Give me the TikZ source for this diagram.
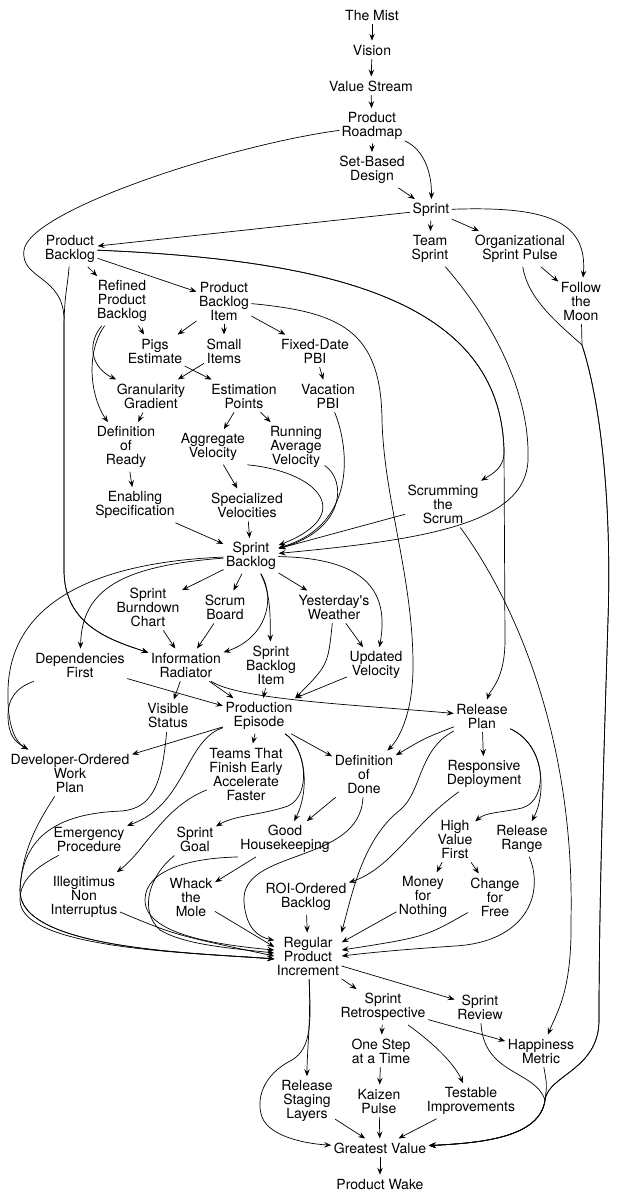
\documentclass[tikz,border=0pt]{standalone}
\usepackage{fontspec}
\newfontfamily\patfont{TeX Gyre Heros}
\usetikzlibrary{arrows.meta}

\begin{document}
\begin{tikzpicture}[x=1pt,y=-1pt,line cap=round,line join=round,
  pat/.style={align=center,inner xsep=2.5pt,inner ysep=4pt,font={\patfont\fontsize{14}{14}\selectfont}},
  edge/.style={line width=0.7pt,-{Stealth[length=7pt,width=5.5pt,inset=2.6pt]}}]
  \useasboundingbox (0,0) rectangle (618,1200);

  \node[pat] (mist) at (372,15) {The Mist};
  \node[pat] (vision) at (372,50) {Vision};
  \node[pat] (vstream) at (371,86) {Value Stream};
  \node[pat] (roadmap) at (372,126) {Product\\Roadmap};
  \node[pat] (setbased) at (372,170) {Set-Based\\Design};
  \node[pat] (sprint) at (431,210) {Sprint};
  \node[pat] (pbacklog) at (70,249) {Product\\Backlog};
  \node[pat] (tsprint) at (430,249) {Team\\Sprint};
  \node[pat] (orgpulse) at (520,249) {Organizational\\Sprint Pulse};
  \node[pat] (moon) at (581,301) {Follow\\the\\Moon};
  \node[pat] (refined) at (122,301) {Refined\\Product\\Backlog};
  \node[pat] (pbi) at (224,301) {Product\\Backlog\\Item};
  \node[pat] (pigs) at (155,351) {Pigs\\Estimate};
  \node[pat] (small) at (224,351) {Small\\Items};
  \node[pat] (fixeddate) at (315,351) {Fixed-Date\\PBI};
  \node[pat] (granular) at (151,396) {Granularity\\Gradient};
  \node[pat] (estpoints) at (244,396) {Estimation\\Points};
  \node[pat] (vacation) at (328,396) {Vacation\\PBI};
  \node[pat] (dor) at (126,447) {Definition\\of\\Ready};
  \node[pat] (aggvel) at (213,447) {Aggregate\\Velocity};
  \node[pat] (runavg) at (296,447) {Running\\Average\\Velocity};
  \node[pat] (enabling) at (135,505) {Enabling\\Specification};
  \node[pat] (specvel) at (247,505) {Specialized\\Velocities};
  \node[pat] (scrumming) at (443,504) {Scrumming\\the\\Scrum};
  \node[pat] (sbacklog) at (251,556) {Sprint\\Backlog};
  \node[pat] (burndown) at (148,607) {Sprint\\Burndown\\Chart};
  \node[pat] (scrumboard) at (225,607) {Scrum\\Board};
  \node[pat] (weather) at (334,607) {Yesterday's\\Weather};
  \node[pat] (depfirst) at (80,665) {Dependencies\\First};
  \node[pat] (inforad) at (186,665) {Information\\Radiator};
  \node[pat] (sbi) at (271,665) {Sprint\\Backlog\\Item};
  \node[pat] (updvel) at (376,665) {Updated\\Velocity};
  \node[pat] (visible) at (168,716) {Visible\\Status};
  \node[pat] (prodep) at (259,716) {Production\\Episode};
  \node[pat] (relplan) at (482,716) {Release\\Plan};
  \node[pat] (devwork) at (70,773) {Developer-Ordered\\Work\\Plan};
  \node[pat] (teams) at (246,774) {Teams That\\Finish Early\\Accelerate\\Faster};
  \node[pat] (dod) at (364,774) {Definition\\of\\Done};
  \node[pat] (respdep) at (484,774) {Responsive\\Deployment};
  \node[pat] (emergency) at (89,839) {Emergency\\Procedure};
  \node[pat] (sgoal) at (195,839) {Sprint\\Goal};
  \node[pat] (housekeep) at (285,839) {Good\\Housekeeping};
  \node[pat] (hvf) at (455,839) {High\\Value\\First};
  \node[pat] (relrange) at (522,839) {Release\\Range};
  \node[pat] (illegit) at (84,897) {Illegitimus\\Non\\Interruptus};
  \node[pat] (whack) at (191,897) {Whack\\the\\Mole};
  \node[pat] (roi) at (306,897) {ROI-Ordered\\Backlog};
  \node[pat] (money) at (423,897) {Money\\for\\Nothing};
  \node[pat] (change) at (495,897) {Change\\for\\Free};
  \node[pat] (rpi) at (308,956) {Regular\\Product\\Increment};
  \node[pat] (retro) at (383,1007) {Sprint\\Retrospective};
  \node[pat] (review) at (480,1007) {Sprint\\Review};
  \node[pat] (onestep) at (381,1051) {One Step\\at a Time};
  \node[pat] (happiness) at (541,1051) {Happiness\\Metric};
  \node[pat] (staging) at (307,1101) {Release\\Staging\\Layers};
  \node[pat] (kaizen) at (379,1101) {Kaizen\\Pulse};
  \node[pat] (testable) at (471,1101) {Testable\\Improvements};
  \node[pat] (gvalue) at (380,1148) {Greatest Value};
  \node[pat] (wake) at (380,1184) {Product Wake};

  \foreach \a/\b in {mist/vision,vision/vstream,vstream/roadmap,roadmap/setbased,
    setbased/sprint,sprint/pbacklog,sprint/tsprint,sprint/orgpulse,orgpulse/moon,
    pbacklog/refined,pbacklog/pbi,refined/pigs,pbi/pigs,pbi/small,pbi/fixeddate,
    small/granular,pigs/estpoints,fixeddate/vacation,granular/dor,estpoints/aggvel,
    estpoints/runavg,dor/enabling,aggvel/specvel,enabling/sbacklog,specvel/sbacklog,
    scrumming/sbacklog,sbacklog/burndown,sbacklog/scrumboard,sbacklog/weather,
    burndown/inforad,scrumboard/inforad,weather/updvel,inforad/visible,inforad/prodep,
    sbi/prodep,prodep/teams,prodep/devwork,prodep/dod,relplan/respdep,dod/housekeep,
    housekeep/whack,hvf/money,hvf/change,roi/rpi,rpi/retro,rpi/review,retro/onestep,
    retro/happiness,onestep/kaizen,staging/gvalue,kaizen/gvalue,testable/gvalue,gvalue/wake} {
    \draw[edge] (\a) -- (\b);
  }
  \draw[edge] (updvel) -- (prodep.north east);
  \draw[edge] (whack) -- (rpi.165);
  \draw[edge] (money) -- (rpi.22);

  \draw[edge] (roadmap) .. controls (425,150) and (432,175) .. (sprint);
  \draw[edge] (sprint) .. controls (545,206) and (588,220) .. (moon);
  \draw[edge] (roadmap) .. controls (230,145) and (30,210) .. (24,250) .. controls (20,280) and (64,275) .. (64,320)
    -- (64,570) .. controls (64,625) and (110,640) .. (inforad);
  \draw[edge] (pbacklog) .. controls (68,285) and (64,295) .. (64,330) -- (64,570) .. controls (64,625) and (110,640) .. (inforad);
  \draw[edge] (pbacklog) .. controls (330,260) and (500,300) .. (504,450) -- (505,640) .. controls (505,680) and (490,690) .. (relplan);
  \draw[edge] (pbacklog) .. controls (330,260) and (500,300) .. (504,450) .. controls (505,468) and (492,474) .. (scrumming);
  \draw[edge] (tsprint) .. controls (500,330) and (530,400) .. (528,460) .. controls (526,525) and (420,540) .. (sbacklog);
  \draw[edge] (scrumming) .. controls (510,595) and (575,730) .. (571,920) .. controls (572,990) and (558,1010) .. (happiness);
  \draw[edge] (orgpulse) .. controls (528,300) and (560,325) .. (582,345) .. controls (600,400) and (612,500) .. (608,620)
    .. controls (604,750) and (599,900) .. (599,1020) .. controls (599,1070) and (548,1075) .. (545,1100)
    .. controls (540,1138) and (480,1143) .. (gvalue);
  \draw[edge] (moon) -- (582,345) .. controls (600,400) and (612,500) .. (608,620)
    .. controls (604,750) and (599,900) .. (599,1020) .. controls (599,1070) and (548,1075) .. (545,1100)
    .. controls (540,1138) and (480,1143) .. (gvalue);
  \draw[edge] (review) .. controls (484,1075) and (535,1070) .. (545,1100) .. controls (540,1138) and (480,1143) .. (gvalue);
  \draw[edge] (happiness) .. controls (547,1085) .. (545,1100) .. controls (540,1138) and (480,1143) .. (gvalue);

  \draw[edge] (refined) .. controls (86,345) and (92,368) .. (granular);
  \draw[edge] (refined) .. controls (84,355) and (92,400) .. (dor);
  \draw[edge] (pbi) .. controls (340,312) and (381,330) .. (382,420) .. controls (384,500) and (414,580) .. (413,670)
    .. controls (412,720) and (396,742) .. (dod);
  \draw[edge] (vacation) .. controls (350,450) and (356,525) .. (sbacklog);
  \draw[edge] (runavg) .. controls (347,480) and (345,530) .. (sbacklog);
  \draw[edge] (aggvel.south east) .. controls (320,472) and (356,515) .. (sbacklog);

  \draw[edge] (sbacklog) .. controls (100,562) and (10,600) .. (8,690) .. controls (7,725) and (15,742) .. (devwork);
  \draw[edge] (depfirst) .. controls (15,688) and (8,700) .. (8,715) .. controls (8,735) and (15,742) .. (devwork);
  \draw[edge] (sbacklog) .. controls (120,566) and (82,590) .. (depfirst);
  \draw[edge] (sbacklog) .. controls (272,595) and (270,625) .. (sbi);
  \draw[edge] (sbacklog) .. controls (276,600) and (266,638) .. (inforad);
  \draw[edge] (sbacklog) .. controls (350,558) and (392,580) .. (updvel);
  \draw[edge] (weather) .. controls (328,665) .. (prodep.north east);
  \draw[edge] (depfirst) .. controls (160,688) .. (prodep);
  \draw[edge] (inforad) .. controls (240,700) and (360,705) .. (relplan);

  \draw[edge] (prodep) .. controls (185,740) and (186,805) .. (emergency);
  \draw[edge] (prodep) .. controls (306,748) and (310,790) .. (housekeep);
  \draw[edge] (prodep) .. controls (306,748) and (312,795) .. (288,806) .. controls (262,815) and (235,815) .. (sgoal);
  \draw[edge] (teams) .. controls (162,808) and (146,850) .. (illegit);
  \draw[edge] (relplan) .. controls (425,738) .. (dod);
  \draw[edge] (relplan) .. controls (546,745) and (546,795) .. (relrange);
  \draw[edge] (relplan) .. controls (546,745) and (550,800) .. (522,808) .. controls (500,813) and (486,812) .. (hvf);
  \draw[edge] (respdep) .. controls (412,825) and (392,868) .. (roi);

  \draw[edge] (visible) .. controls (162,785) and (152,808) .. (122,811) .. controls (60,813) and (22,835) .. (20,890)
    .. controls (18,950) and (200,953) .. (rpi.185);
  \draw[edge] (devwork) .. controls (38,822) and (22,850) .. (20,890) .. controls (18,950) and (200,953) .. (rpi.185);
  \draw[edge] (emergency) .. controls (35,868) and (20,880) .. (20,900) .. controls (20,950) and (200,953) .. (rpi.185);
  \draw[edge] (illegit) .. controls (175,935) .. (rpi.180);
  \draw[edge] (sgoal) .. controls (150,875) and (138,910) .. (160,930) .. controls (185,945) and (230,948) .. (rpi.175);
  \draw[edge] (housekeep.south west) .. controls (190,858) and (145,870) .. (145,900) .. controls (145,935) and (220,945) .. (rpi.170);
  \draw[edge] (dod) .. controls (360,865) and (240,848) .. (244,902) .. controls (246,928) and (258,937) .. (rpi.155);
  \draw[edge] (relplan) .. controls (418,750) and (422,792) .. (400,810) .. controls (362,840) and (352,895) .. (rpi.35);
  \draw[edge] (change) .. controls (425,937) .. (rpi.10);
  \draw[edge] (relrange) .. controls (545,895) and (525,942) .. (455,946) .. controls (410,949) and (375,952) .. (rpi.0);

  \draw[edge] (rpi) .. controls (311,1020) and (307,1050) .. (staging);
  \draw[edge] (rpi) .. controls (311,1020) and (312,1048) .. (292,1060) .. controls (262,1075) and (256,1100) .. (262,1117)
    .. controls (270,1138) and (310,1144) .. (gvalue);
  \draw[edge] (retro) .. controls (436,1045) and (455,1065) .. (testable);
\end{tikzpicture}
\end{document}
